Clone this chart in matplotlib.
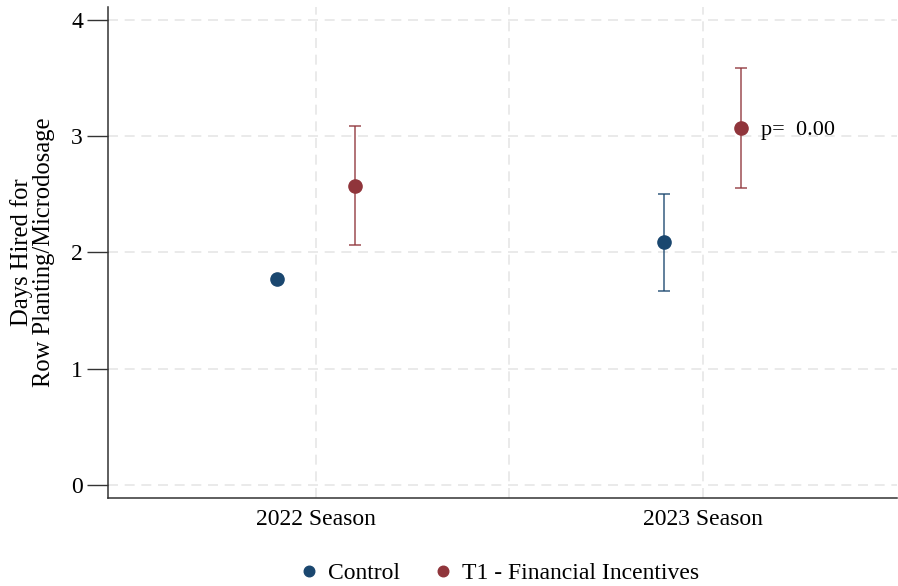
import numpy as np
import matplotlib.pyplot as plt

plt.rcParams['font.family'] = ['Liberation Serif', 'DejaVu Serif']

seasons = ["2022 Season", "2023 Season"]
groups = ["Control", "T1 - Financial Incentives"]
colors = ["#1a476f", "#90353b"]

# point estimates and CI bounds per group (2022, 2023)
means = [[1.77, 2.09], [2.57, 3.07]]
ci_low = [[1.77, 1.67], [2.06, 2.55]]
ci_high = [[1.77, 2.50], [3.09, 3.59]]
p_values = ["", "0.00"]

offsets = [-0.1, 0.1]
x = np.arange(1, len(seasons) + 1)

fig = plt.figure(figsize=(8.98, 5.86), dpi=100)
ax = fig.add_axes([0.1203, 0.150, 0.879, 0.838])

ax.set_xlim(0.4625, 2.504)
ax.set_ylim(-0.112, 4.11)

for v in [1, 1.5, 2]:
    ax.axvline(v, color="#e6e6e6", lw=1.2, ls=(0, (6, 4)), zorder=0)
for v in range(5):
    ax.axhline(v, color="#e6e6e6", lw=1.2, ls=(0, (6, 4)), zorder=0)

for g in range(len(groups)):
    xs = x + offsets[g]
    m = np.array(means[g])
    lo = m - np.array(ci_low[g])
    hi = np.array(ci_high[g]) - m
    has_ci = (lo + hi) > 0
    ax.errorbar(xs[has_ci], m[has_ci], yerr=[lo[has_ci], hi[has_ci]], fmt="none",
                ecolor=colors[g], alpha=0.75, elinewidth=1.3, capsize=4, capthick=1.3, zorder=2)
    ax.plot(xs, m, "o", color=colors[g], ms=9.5, zorder=3, label=groups[g])

for i, p in enumerate(p_values):
    if p:
        ax.text(x[i] + offsets[1] + 0.052, means[1][i], "p=  " + p,
                va="center_baseline", ha="left", fontsize=16)

ax.set_xticks(x)
ax.set_xticklabels(seasons, fontsize=17)
ax.tick_params(axis="x", length=0, pad=8)
ax.set_yticks(range(5))
ax.tick_params(axis="y", length=15, width=1, labelsize=17, pad=3, color="#333333")
ax.set_ylabel("Days Hired for\nRow Planting/Microdosage", fontsize=17.7, linespacing=1.0)
ax.yaxis.set_label_coords(-0.067, 0.5)

for s in ["top", "right"]:
    ax.spines[s].set_visible(False)
for s in ["left", "bottom"]:
    ax.spines[s].set_color("#333333")
    ax.spines[s].set_linewidth(1.1)

fig.legend(loc="lower center", bbox_to_anchor=(0.553, -0.033), ncol=2, frameon=False,
           fontsize=17, handlelength=1.2, handletextpad=0.2, columnspacing=1.23,
           markerscale=0.8)

fig.savefig("out.png", dpi=100)
